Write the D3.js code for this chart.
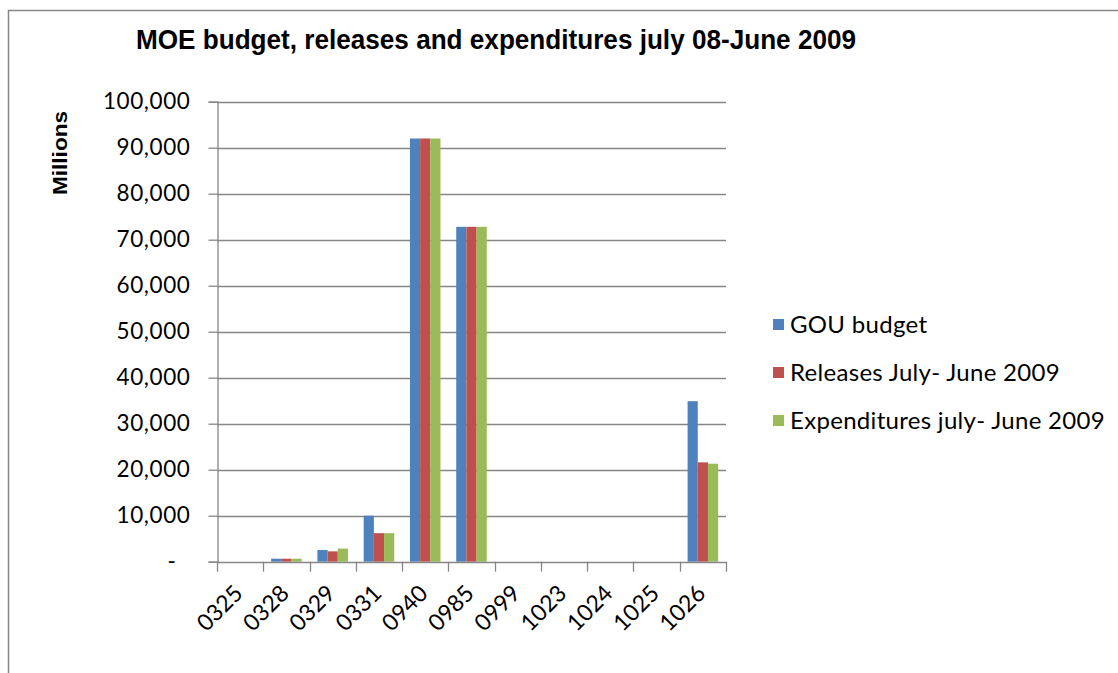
<!DOCTYPE html>
<html>
<head>
<meta charset="utf-8">
<script src="https://cdn.jsdelivr.net/npm/d3@7"></script>
<style>
  html, body { margin: 0; padding: 0; background: #fff; }
  svg { display: block; }
</style>
</head>
<body>
<svg id="chart" width="1118" height="673"></svg>
<script>
// Vote codes along the x axis
const categories = ["0325", "0328", "0329", "0331", "0940", "0985", "0999", "1023", "1024", "1025", "1026"];

// Series names (legend order)
const seriesNames = ["GOU budget", "Releases July- June 2009", "Expenditures july- June 2009"];

// Values in millions, one array per series, aligned with categories
const gouBudget    = [0, 650, 2550, 10000, 92000, 72800, 0, 0, 0, 0, 34900];
const releases     = [0, 650, 2250, 6200, 92000, 72800, 0, 0, 0, 0, 21600];
const expenditures = [0, 650, 2850, 6200, 92000, 72800, 0, 0, 0, 0, 21300];

const yTicks = [0, 10000, 20000, 30000, 40000, 50000, 60000, 70000, 80000, 90000, 100000];

const seriesColors = ["#4F81BD", "#C0504D", "#9BBB59"];
const seriesValues = [gouBudget, releases, expenditures];

const svg = d3.select("#chart");
const font = "Lato, 'Open Sans', 'DejaVu Sans', sans-serif";

// outer chart frame
svg.append("rect")
  .attr("x", 8.5).attr("y", 10.5)
  .attr("width", 1130).attr("height", 680)
  .attr("fill", "#fff").attr("stroke", "#868686").attr("stroke-width", 1.5);

const plot = { left: 217, right: 726, top: 101.7, bottom: 561.7 };

const x0 = d3.scaleBand()
  .domain(categories)
  .range([plot.left, plot.right])
  .paddingInner(0.34)
  .paddingOuter(0.17);

const x1 = d3.scaleBand()
  .domain(d3.range(seriesNames.length))
  .range([0, x0.bandwidth()]);

const y = d3.scaleLinear()
  .domain([0, 100000])
  .range([plot.bottom, plot.top]);

// horizontal gridlines
svg.append("g")
  .selectAll("line")
  .data(yTicks.filter(d => d > 0))
  .join("line")
  .attr("x1", plot.left).attr("x2", plot.right)
  .attr("y1", d => Math.round(y(d)) + 0.5).attr("y2", d => Math.round(y(d)) + 0.5)
  .attr("stroke", "#868686").attr("stroke-width", 1.3);

// y axis
const yAxis = d3.axisLeft(y)
  .tickValues(yTicks)
  .tickSize(9)
  .tickPadding(18)
  .tickFormat(d => d === 0 ? "-" : d3.format(",")(d));

const gy = svg.append("g")
  .attr("transform", `translate(${plot.left + 0.5},0)`)
  .call(yAxis);
gy.select(".domain").attr("stroke", "#868686").attr("stroke-width", 1.3);
gy.selectAll(".tick line").attr("stroke", "#868686").attr("stroke-width", 1.3);
gy.selectAll(".tick text")
  .attr("font-family", font).attr("font-size", 22.5).attr("fill", "#000")
  .attr("letter-spacing", 0.6);
gy.selectAll(".tick")
  .filter(d => d === 0)
  .select("text").attr("dx", -14);

// bars
const groups = svg.append("g")
  .selectAll("g")
  .data(categories)
  .join("g")
  .attr("transform", d => `translate(${x0(d)},0)`);

groups.selectAll("rect")
  .data((d, i) => seriesValues.map((vals, s) => ({ s, v: vals[i] })))
  .join("rect")
  .attr("x", d => x1(d.s))
  .attr("width", x1.bandwidth())
  .attr("y", d => y(d.v))
  .attr("height", d => y(0) - y(d.v))
  .attr("fill", d => seriesColors[d.s]);

// x axis: ticks between categories
const xAxis = svg.append("g");
xAxis.append("line")
  .attr("x1", plot.left).attr("x2", plot.right)
  .attr("y1", Math.round(plot.bottom) + 0.5).attr("y2", Math.round(plot.bottom) + 0.5)
  .attr("stroke", "#868686").attr("stroke-width", 1.3);

const step = x0.step();
const boundaries = d3.range(categories.length + 1).map(i => plot.left + i * step);
xAxis.selectAll("line.tk")
  .data(boundaries)
  .join("line")
  .attr("class", "tk")
  .attr("x1", d => Math.round(d) + 0.5).attr("x2", d => Math.round(d) + 0.5)
  .attr("y1", plot.bottom).attr("y2", plot.bottom + 10)
  .attr("stroke", "#868686").attr("stroke-width", 1.3);

xAxis.selectAll("text")
  .data(categories)
  .join("text")
  .attr("transform", d => `translate(${x0(d) + x0.bandwidth() / 2 + 4},${plot.bottom + 33}) rotate(-45)`)
  .attr("text-anchor", "end")
  .attr("font-family", font).attr("font-size", 23).attr("fill", "#000")
  .text(d => d);

// y axis title
svg.append("text")
  .attr("transform", "translate(67,153) rotate(-90)")
  .attr("text-anchor", "middle")
  .attr("font-family", "'Liberation Sans', Arial, sans-serif")
  .attr("font-weight", "bold").attr("font-size", 21)
  .attr("textLength", 84).attr("lengthAdjust", "spacingAndGlyphs")
  .text("Millions");

// chart title
svg.append("text")
  .attr("x", 496).attr("y", 49)
  .attr("text-anchor", "middle")
  .attr("font-family", "'Liberation Sans Narrow', 'Liberation Sans', Arial, sans-serif")
  .attr("font-weight", "bold").attr("font-size", 27)
  .attr("textLength", 720).attr("lengthAdjust", "spacingAndGlyphs")
  .text("MOE budget, releases and expenditures july 08-June 2009");

// legend
const legend = svg.append("g")
  .selectAll("g")
  .data(seriesNames)
  .join("g")
  .attr("transform", (d, i) => `translate(773,${325 + i * 48})`);

legend.append("rect")
  .attr("x", 0).attr("y", -6)
  .attr("width", 11).attr("height", 11)
  .attr("fill", (d, i) => seriesColors[i]);

legend.append("text")
  .attr("x", 17).attr("y", 8)
  .attr("font-family", font).attr("font-size", 24).attr("fill", "#000")
  .attr("letter-spacing", 0.3)
  .text(d => d);
</script>
</body>
</html>
